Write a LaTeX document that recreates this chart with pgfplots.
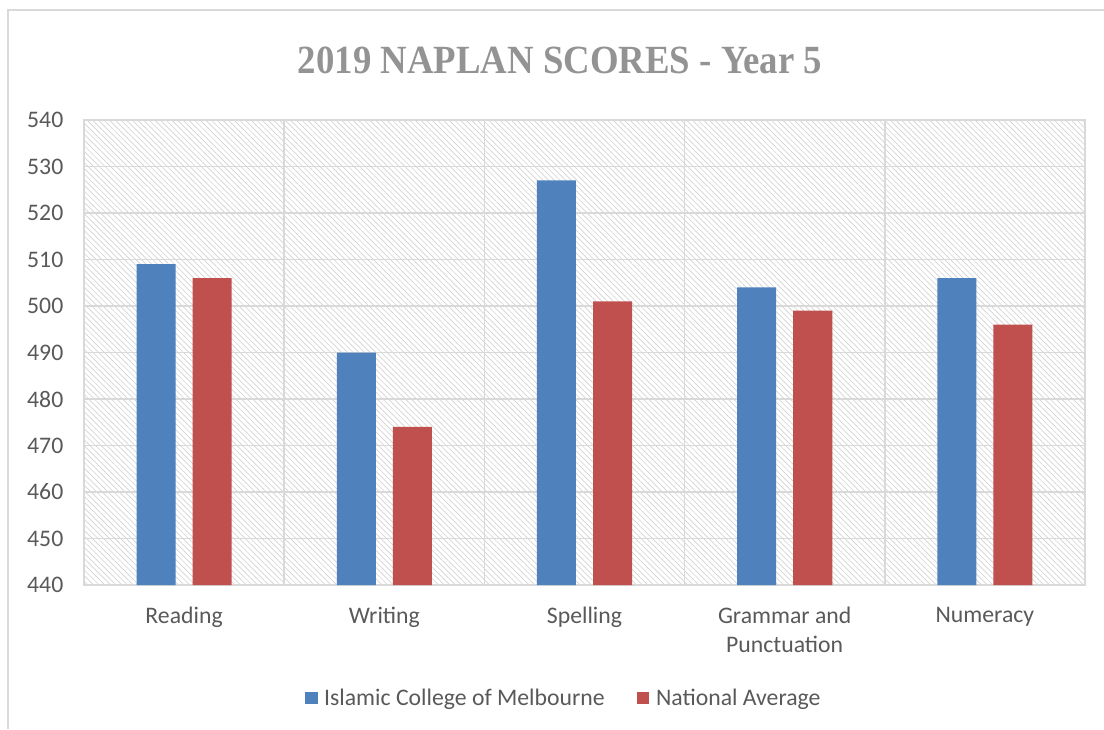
\documentclass[border=0pt]{standalone}
\usepackage{pgfplots}
\pgfplotsset{compat=1.18}
\usepackage{fontspec}
\setmainfont{Carlito}
\newfontfamily\titlefont{Liberation Serif}
\usetikzlibrary{patterns.meta}
\definecolor{cblue}{HTML}{4F81BD}
\definecolor{cred}{HTML}{C0504D}
\definecolor{txt}{HTML}{595959}
\definecolor{grd}{HTML}{D9D9D9}
\definecolor{ttl}{HTML}{939393}
\begin{document}
\begin{tikzpicture}
\path[use as bounding box] (0,0) rectangle (828pt,546.75pt);
\draw[grd, line width=1.2pt] (6pt,0pt) -- (6pt,539.25pt) -- (828pt,539.25pt);
\begin{axis}[
  at={(63pt,108pt)}, anchor=south west,
  scale only axis, width=750.75pt, height=348.75pt,
  xmin=-0.5, xmax=4.5, ymin=440, ymax=540,
  ytick={440,450,...,540},
  xtick={0,1,2,3,4},
  xticklabels={Reading,Writing,Spelling,{Grammar and\\Punctuation},Numeracy},
  minor xtick={0.5,1.5,2.5,3.5},
  xminorgrids=true, ymajorgrids=true,
  grid style={grd, line width=1.1pt},
  minor grid style={grd, line width=1.1pt},
  axis line style={grd, line width=1.1pt},
  major tick length=0pt, minor tick length=0pt,
  tick style={draw=none},
  /pgf/number format/assume math mode=true,
  ticklabel style={font=\fontsize{17.8}{21.5}\selectfont, text=txt},
  xticklabel style={align=center, yshift=-13pt},
  yticklabel style={xshift=-12pt},
  axis background/.style={pattern={Lines[angle=-45,distance=3pt,line width=0.5pt]}, pattern color=gray!35},
  legend style={at={(0.4795,-0.243)}, anchor=center, draw=none, fill=none,
    legend columns=2, font=\fontsize{17.8}{21.5}\selectfont, text=txt,
    /tikz/every odd column/.append style={column sep=3pt},
    /tikz/every even column/.append style={column sep=22pt}},
  legend image code/.code={\fill[#1] (0pt,-4.8pt) rectangle (9.5pt,4.8pt);},
]
\addplot[ybar, bar width=0.195, bar shift=-0.14, fill=cblue, draw=none]
  coordinates {(0,509) (1,490) (2,527) (3,504) (4,506)};
\addlegendentry{Islamic College of Melbourne}
\addplot[ybar, bar width=0.195, bar shift=0.14, fill=cred, draw=none]
  coordinates {(0,506) (1,474) (2,501) (3,499) (4,496)};
\addlegendentry{National Average}
\end{axis}
\node[font=\titlefont\bfseries\fontsize{30}{36}\selectfont, text=ttl, xscale=0.92] at (420pt,501.75pt) {2019 NAPLAN SCORES - Year 5};
\end{tikzpicture}
\end{document}
